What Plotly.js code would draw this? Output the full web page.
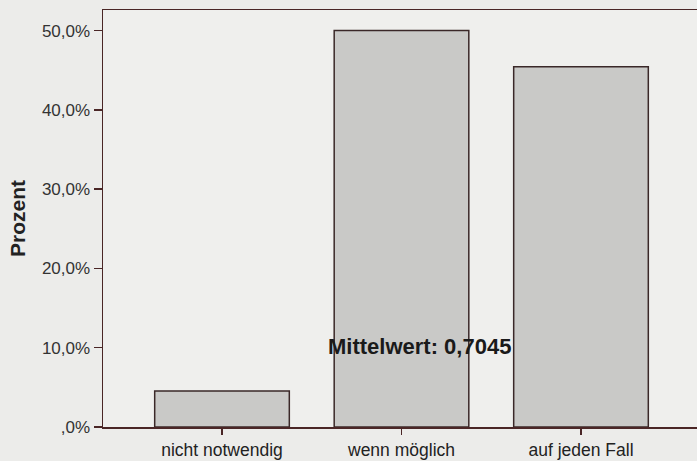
<!DOCTYPE html>
<html>
<head>
<meta charset="utf-8">
<script src="https://cdn.plot.ly/plotly-3.0.1.min.js"></script>
<style>
html,body{margin:0;padding:0;overflow:hidden;background:#ececea;}
#chart{width:700px;height:461px;}
</style>
</head>
<body>
<div id="chart"></div>
<script>
var categories = ["nicht notwendig", "wenn möglich", "auf jeden Fall"];
var percentValues = [4.55, 50.0, 45.45];
var yTickValues = [0, 10, 20, 30, 40, 50];
var yTickLabels = [",0%", "10,0%", "20,0%", "30,0%", "40,0%", "50,0%"];
var meanLabel = "Mittelwert: 0,7045";

var axisColor = "#4a2626";
var fontFam = "Arial, 'Liberation Sans', sans-serif";

var trace = {
  type: "bar",
  x: [0, 1, 2],
  y: percentValues,
  marker: {color: "#c9c9c7", line: {color: "#3a2828", width: 1.5}},
  hoverinfo: "skip"
};

var layout = {
  width: 700,
  height: 461,
  margin: {l: 103, r: 0, t: 10, b: 34, pad: 0},
  paper_bgcolor: "#ececea",
  plot_bgcolor: "#efefed",
  bargap: 0.25,
  showlegend: false,
  font: {family: fontFam, size: 17, color: "#2a2a2a"},
  xaxis: {
    range: [-0.663, 2.663],
    tickvals: [0, 1, 2],
    ticktext: categories,
    ticks: "outside",
    ticklen: 6,
    tickwidth: 1.5,
    tickcolor: axisColor,
    showline: true,
    linecolor: axisColor,
    linewidth: 1.5,
    mirror: true,
    showgrid: false,
    zeroline: false,
    tickfont: {family: fontFam, size: 17.5, color: "#222"},
    fixedrange: true
  },
  yaxis: {
    range: [0, 52.6],
    tickvals: yTickValues,
    ticktext: yTickLabels,
    ticks: "outside",
    ticklen: 8,
    tickwidth: 1.5,
    tickcolor: axisColor,
    showline: true,
    linecolor: axisColor,
    linewidth: 1.5,
    mirror: true,
    showgrid: false,
    zeroline: false,
    tickfont: {family: fontFam, size: 17, color: "#333"},
    title: {text: "Prozent", font: {family: fontFam, size: 21, color: "#222", weight: "bold"}, standoff: 10},
    fixedrange: true
  },
  annotations: [{
    x: 1.103, y: 10.1, xref: "x", yref: "y",
    text: "<b>" + meanLabel + "</b>",
    showarrow: false,
    font: {family: fontFam, size: 22, color: "#1a1a1a"}
  }]
};

Plotly.newPlot("chart", [trace], layout, {displayModeBar: false, staticPlot: true});
</script>
</body>
</html>
